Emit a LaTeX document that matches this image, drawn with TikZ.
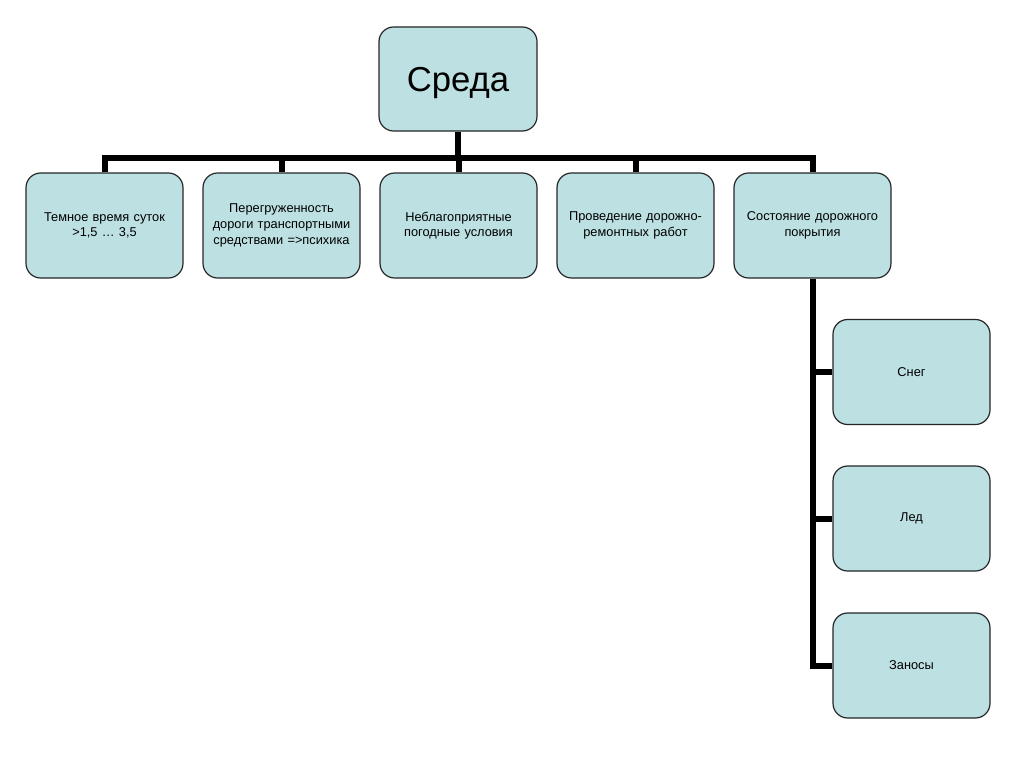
\documentclass[tikz,border=0pt]{standalone}
\usepackage{fontspec}
\setmainfont{Liberation Sans}
\begin{document}
\begin{tikzpicture}[x=0.75pt,y=-0.75pt,
  box/.style={draw=black!85, line width=0.9pt, fill=boxfill, rounded corners=11pt,
    minimum width=117.75pt, minimum height=78.75pt, inner sep=0pt,
    text width=110pt, align=center, font=\fontsize{9.6}{11.8}\selectfont},
  topbox/.style={box, minimum width=118.5pt, minimum height=78pt, text height=22pt, text depth=3pt, font=\fontsize{26}{30}\selectfont},
  conn/.style={line width=4.5pt, line join=miter, line cap=butt}]
\definecolor{boxfill}{HTML}{BDE0E3}
\useasboundingbox[fill=white] (0,0) rectangle (1024,767);
\node[topbox] (top) at (458,79) {Среда};
\node[box] (b1) at (104.5,225.5) {Темное время суток\\>1,5 … 3,5};
\node[box] (b2) at (281.5,225.5) {Перегруженность дороги транспортными средствами =>психика};
\node[box] (b3) at (458.5,225.5) {Неблагоприятные\\погодные условия};
\node[box] (b4) at (635.5,225.5) {Проведение дорожно-\\ремонтных работ};
\node[box] (b5) at (812.5,225.5) {Состояние дорожного\\покрытия};
\node[box] (c1) at (911.5,372) {Снег};
\node[box] (c2) at (911.5,518.5) {Лед};
\node[box] (c3) at (911.5,665.5) {Заносы};
\coordinate (bar) at (458,158);
\draw[conn] (top.south) -- (top.south |- bar);
\draw[conn] (b1.north) -- (b1.north |- bar) -- (b5.north |- bar) -- (b5.north);
\draw[conn] (b2.north) -- (b2.north |- bar);
\draw[conn] (b3.north) -- (b3.north |- bar);
\draw[conn] (b4.north) -- (b4.north |- bar);
\draw[conn] (b5.south) -- (b5.south |- c3.west) -- (c3.west);
\draw[conn] (c1.west -| b5.south) -- (c1.west);
\draw[conn] (c2.west -| b5.south) -- (c2.west);
\end{tikzpicture}
\end{document}
